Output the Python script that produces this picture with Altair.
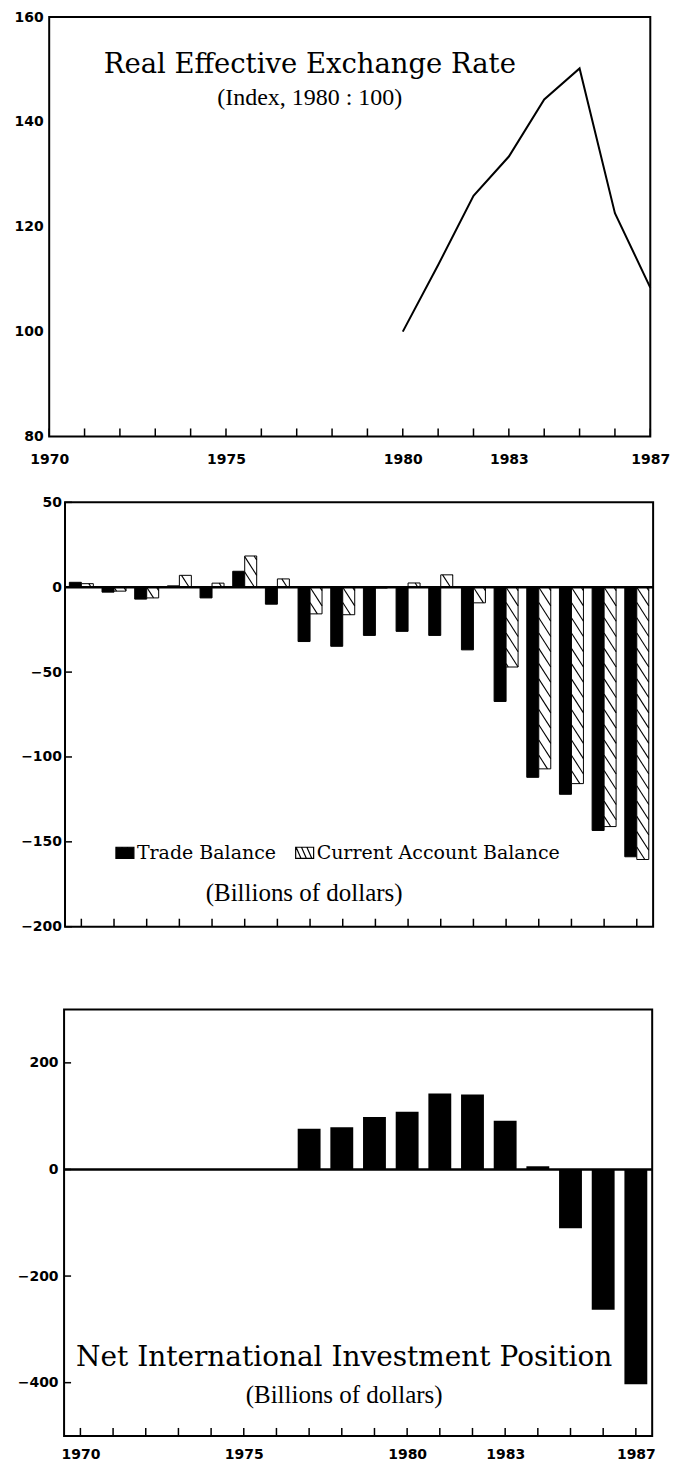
import altair as alt
import pandas as pd

# ---------------- data ----------------
REER_YEARS = [1980, 1981, 1982, 1983, 1984, 1985, 1986, 1987]
REER_VALUES = [100.0, 112.7, 125.9, 133.4, 144.3, 150.2, 122.6, 108.4]

BAL_YEARS = [1970, 1971, 1972, 1973, 1974, 1975, 1976, 1977, 1978,
             1979, 1980, 1981, 1982, 1983, 1984, 1985, 1986, 1987]
TRADE_BALANCE = [2.9, -2.9, -7.0, 0.8, -6.3, 9.4, -10.0, -32.0, -34.8,
                 -28.4, -26.0, -28.4, -36.9, -67.3, -112.0, -122.0, -143.3, -158.8]
CURRENT_ACCOUNT = [2.1, -2.3, -6.3, 7.0, 2.4, 18.4, 4.9, -15.7, -16.2,
                   -0.5, 2.5, 7.3, -9.2, -47.0, -107.0, -115.7, -141.0, -160.4]

NIIP_YEARS = [1977, 1978, 1979, 1980, 1981, 1982, 1983, 1984, 1985, 1986, 1987]
NIIP_VALUES = [76.5, 79.0, 98.5, 108.5, 142.5, 140.5, 91.5, 6.0, -110.5, -263.0, -403.0]

SERIES = ["Trade Balance", "Current Account Balance"]
TOP_Y_LABELS = [80, 100, 120, 140, 160]
BAL_Y_LABELS = [-200, -150, -100, -50, 0, 50]
NIIP_Y_LABELS = [-400, -200, 0, 200]
YEAR_LABELS = [1970, 1975, 1980, 1983, 1987]
TICK_YEARS = [1970, 1971, 1972, 1973, 1974, 1975, 1976, 1977, 1978,
              1979, 1980, 1981, 1982, 1983, 1984, 1985, 1986, 1987]

# ---------------- styling ----------------
W1, H1 = 602, 420
W2, H2 = 589, 425
W3, H3 = 589, 427
LABEL_FONT = "DejaVu Sans"
TITLE_FONT = "DejaVu Serif"
SUB_FONT = "Liberation Serif"
BW = 0.367      # width of one balance bar, in years
BW3 = 0.35      # half width of an investment-position bar, in years
HATCH_STEP = 9.0   # vertical spacing of hatch lines (billions)
HATCH_DROP = 11.0  # drop of a hatch line across the bar (billions)
HATCH_SYMBOL = ("M-1,-0.62H1V0.62H-1Z M-0.95,-0.62L-0.4,0.62 "
                "M-0.35,-0.62L0.2,0.62 M0.25,-0.62L0.8,0.62")


def yaxis(values, pad):
    return alt.Axis(values=values, ticks=False, domain=False, grid=False,
                    labelPadding=pad, labelFont=LABEL_FONT, labelFontSize=14,
                    labelFontWeight="bold", labelColor="black")


def xaxis(values, pad):
    return alt.Axis(values=values, format="d", ticks=False, domain=False,
                    grid=False, labelPadding=pad, labelFont=LABEL_FONT,
                    labelFontSize=14, labelFontWeight="bold", labelColor="black",
                    labelFlush=False, labelOverlap=False)


def X(field, scale, axis):
    return alt.X(field, type="quantitative", scale=scale, axis=axis, title=None)


def Y(field, scale, axis):
    return alt.Y(field, type="quantitative", scale=scale, axis=axis, title=None)


ticks_df = pd.DataFrame({"year": TICK_YEARS})

# ---------------- top: real effective exchange rate ----------------
x1s = alt.Scale(domain=[1970, 1987], nice=False, zero=False)
y1s = alt.Scale(domain=[80, 160], nice=False, zero=False)
x1a = xaxis(YEAR_LABELS, 16)
y1a = yaxis(TOP_Y_LABELS, 6)

reer = pd.DataFrame({"year": REER_YEARS, "index": REER_VALUES})
top_line = alt.Chart(reer).mark_line(color="black", strokeWidth=2).encode(
    x=X("year", x1s, x1a), y=Y("index", y1s, y1a))
top_ticks = alt.Chart(ticks_df).mark_rule(color="black", strokeWidth=1.5).encode(
    x=X("year", x1s, x1a), y=alt.value(H1 - 8), y2=alt.value(H1))
top = alt.layer(top_line, top_ticks).properties(
    width=W1, height=H1,
    title=alt.TitleParams(
        text="Real Effective Exchange Rate", subtitle="(Index, 1980 : 100)",
        font=TITLE_FONT, fontSize=27.5, fontWeight="normal", color="black",
        subtitleFont=SUB_FONT, subtitleFontSize=24, subtitleColor="black",
        subtitlePadding=7, anchor="middle", frame="group", offset=-100, dx=-40))

# ---------------- middle: trade and current account balances ----------------
x2s = alt.Scale(domain=[1969.5, 1987.5], nice=False, zero=False)
y2s = alt.Scale(domain=[-200, 50], nice=False, zero=False)
y2a = yaxis(BAL_Y_LABELS, 3.5)

bal = pd.DataFrame({
    "year": BAL_YEARS + BAL_YEARS,
    "series": [SERIES[0]] * len(BAL_YEARS) + [SERIES[1]] * len(BAL_YEARS),
    "value": TRADE_BALANCE + CURRENT_ACCOUNT,
})
legend = alt.Legend(
    title=None, orient="none", legendX=50, legendY=341, direction="horizontal",
    symbolType=HATCH_SYMBOL, symbolSize=324, symbolStrokeColor="black",
    symbolStrokeWidth=1.2, labelFont=TITLE_FONT, labelFontSize=19, labelLimit=400,
    labelColor="black", labelOffset=2, columnPadding=16, padding=0)

bal_bars = alt.Chart(bal).transform_calculate(
    x_lo=f"datum.series == '{SERIES[0]}' ? datum.year - {BW} : datum.year",
    x_hi=f"datum.series == '{SERIES[0]}' ? datum.year : datum.year + {BW}",
).mark_rect(stroke="black", strokeWidth=1).encode(
    x=X("x_lo", x2s, None), x2="x_hi:Q",
    y=Y("value", y2s, y2a), y2=alt.datum(0),
    fill=alt.Fill("series:N", scale=alt.Scale(domain=SERIES, range=["black", "white"]),
                  legend=legend))

ca = pd.DataFrame({"year": BAL_YEARS, "value": CURRENT_ACCOUNT})
hatch = alt.Chart(ca).transform_calculate(
    lo="min(0, datum.value)", hi="max(0, datum.value)"
).transform_calculate(
    ks=f"sequence(floor(datum.lo / {HATCH_STEP}), ceil((datum.hi + {HATCH_DROP}) / {HATCH_STEP}) + 1)"
).transform_flatten(["ks"]).transform_calculate(
    y0=f"datum.ks * {HATCH_STEP}"
).transform_calculate(
    t0=f"max(0, (datum.y0 - datum.hi) / {HATCH_DROP})",
    t1=f"min(1, (datum.y0 - datum.lo) / {HATCH_DROP})",
).transform_filter("datum.t1 > datum.t0").transform_calculate(
    hx1=f"datum.year + {BW} * datum.t0", hx2=f"datum.year + {BW} * datum.t1",
    hy1=f"datum.y0 - {HATCH_DROP} * datum.t0", hy2=f"datum.y0 - {HATCH_DROP} * datum.t1",
).mark_rule(color="black", strokeWidth=1.1).encode(
    x=X("hx1", x2s, None), x2="hx2:Q", y=Y("hy1", y2s, y2a), y2="hy2:Q")

zero2 = alt.Chart(pd.DataFrame({"v": [0]})).mark_rule(color="black", strokeWidth=2.5).encode(
    y=Y("v", y2s, y2a))
yt2 = alt.Chart(pd.DataFrame({"v": BAL_Y_LABELS})).mark_rule(color="black", strokeWidth=1.5).encode(
    y=Y("v", y2s, y2a), x=alt.value(0), x2=alt.value(7))
xt2 = alt.Chart(ticks_df).mark_rule(color="black", strokeWidth=1.5).encode(
    x=X("year", x2s, None), y=alt.value(H2 - 8), y2=alt.value(H2))

mid = alt.layer(bal_bars, hatch, zero2, yt2, xt2).properties(
    width=W2, height=H2,
    title=alt.TitleParams(
        text="(Billions of dollars)", font=SUB_FONT, fontSize=25, fontWeight="normal",
        color="black", anchor="middle", frame="group", offset=-411, dx=-55))

# ---------------- bottom: net international investment position ----------------
x3s = alt.Scale(domain=[1969.5, 1987.5], nice=False, zero=False)
y3s = alt.Scale(domain=[-500, 300], nice=False, zero=False)
x3a = xaxis(YEAR_LABELS, 12)
y3a = yaxis(NIIP_Y_LABELS, 6)

niip = pd.DataFrame({"year": NIIP_YEARS, "value": NIIP_VALUES})
niip_bars = alt.Chart(niip).transform_calculate(
    x_lo=f"datum.year - {BW3}", x_hi=f"datum.year + {BW3}"
).mark_rect(color="black").encode(
    x=X("x_lo", x3s, x3a), x2="x_hi:Q", y=Y("value", y3s, y3a), y2=alt.datum(0))
zero3 = alt.Chart(pd.DataFrame({"v": [0]})).mark_rule(color="black", strokeWidth=2.5).encode(
    y=Y("v", y3s, y3a))
yt3 = alt.Chart(pd.DataFrame({"v": NIIP_Y_LABELS})).mark_rule(color="black", strokeWidth=1.5).encode(
    y=Y("v", y3s, y3a), x=alt.value(0), x2=alt.value(7))
xt3 = alt.Chart(ticks_df).mark_rule(color="black", strokeWidth=1.5).encode(
    x=X("year", x3s, x3a), y=alt.value(H3 - 8), y2=alt.value(H3))

bot = alt.layer(niip_bars, zero3, yt3, xt3).properties(
    width=W3, height=H3,
    title=alt.TitleParams(
        text="Net International Investment Position", subtitle="(Billions of dollars)",
        font=TITLE_FONT, fontSize=28, fontWeight="normal", color="black",
        subtitleFont=SUB_FONT, subtitleFontSize=25, subtitleColor="black",
        subtitlePadding=11, anchor="middle", frame="group", offset=-399, dx=-14))

lower = alt.vconcat(mid, bot, spacing=74, center=True).resolve_legend(fill="independent")
chart = alt.vconcat(top, lower, spacing=27, center=True).resolve_legend(
    fill="independent"
).properties(
    padding={"left": 5, "top": 0, "right": 0, "bottom": 0}, background="white"
).configure_view(stroke="black", strokeWidth=2)

chart.save("out.html", embed_options={"renderer": "svg", "actions": False})
